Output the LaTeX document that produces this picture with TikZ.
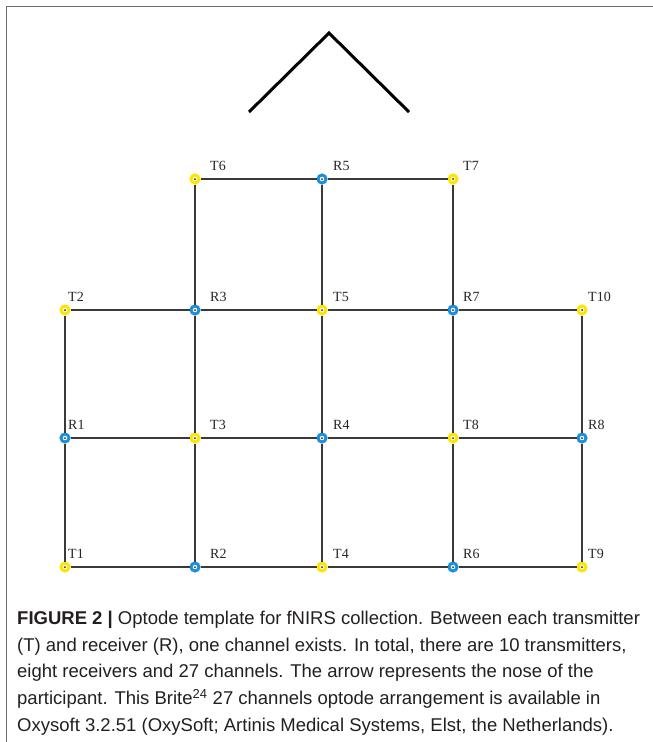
\documentclass[tikz,border=0pt]{standalone}
\usepackage{fontspec}
\setmainfont{Liberation Serif}
\newfontfamily\capfont{Liberation Sans}
\usetikzlibrary{positioning}
\definecolor{txfill}{HTML}{FFE400}
\definecolor{rxfill}{HTML}{1B8FDA}
\definecolor{gridedge}{HTML}{3A3A3A}
\definecolor{frameedge}{HTML}{6E6E6E}
\definecolor{captext}{HTML}{231F20}

\begin{document}
\begin{tikzpicture}[
  x=1pt, y=-1pt,
  opt/.style={circle, inner sep=0pt, minimum size=8pt, line width=3pt, fill=white,
              path picture={\fill[black!85] (path picture bounding box.center) circle (1pt);}},
  tx/.style={opt, draw=txfill},
  rx/.style={opt, draw=rxfill},
  chan/.style={draw=gridedge, line width=1.7pt},
  nose/.style={draw=black, line width=3pt, line join=miter},
  lab/.style={font=\fontsize{14}{16}\selectfont, text=black!85, anchor=base west, inner sep=0pt},
  capbox/.style={font=\capfont\fontsize{18.5}{26.6}\selectfont, text=captext, align=left,
              anchor=north west, inner sep=0pt},
]
\useasboundingbox (0,0) rectangle (653,742);
% ---- frame (top and left edge only) ----
\coordinate (fa) at (6.5,742);
\coordinate (fb) at (6.5,6.5);
\coordinate (fc) at (653,6.5);
\draw[frameedge, line width=1.5pt] (fa) -- (fb) -- (fc);
% ---- nose arrow ----
\coordinate (noseL) at (249,112);
\coordinate (noseTip) at (329,33);
\coordinate (noseR) at (409,112);
\draw[nose] (noseL) -- (noseTip) -- (noseR);
% ---- optodes: row 1 ----
\node[tx] (T6) at (195,179) {};
\node[rx] (R5) at (322,179) {};
\node[tx] (T7) at (453,179) {};
% ---- row 2 ----
\node[tx] (T2)  at (65,310) {};
\node[rx] (R3)  at (195,310) {};
\node[tx] (T5)  at (322,310) {};
\node[rx] (R7)  at (453,310) {};
\node[tx] (T10) at (582,310) {};
% ---- row 3 ----
\node[rx] (R1) at (65,438) {};
\node[tx] (T3) at (195,438) {};
\node[rx] (R4) at (322,438) {};
\node[tx] (T8) at (453,438) {};
\node[rx] (R8) at (582,438) {};
% ---- row 4 ----
\node[tx] (T1) at (65,567) {};
\node[rx] (R2) at (195,567) {};
\node[tx] (T4) at (322,567) {};
\node[rx] (R6) at (453,567) {};
\node[tx] (T9) at (582,567) {};
% ---- channels (14 horizontal + 13 vertical) ----
\draw[chan] (T6) -- (R5) -- (T7);
\draw[chan] (T2) -- (R3) -- (T5) -- (R7) -- (T10);
\draw[chan] (R1) -- (T3) -- (R4) -- (T8) -- (R8);
\draw[chan] (T1) -- (R2) -- (T4) -- (R6) -- (T9);
\draw[chan] (T2) -- (R1) -- (T1);
\draw[chan] (T6) -- (R3) -- (T3) -- (R2);
\draw[chan] (R5) -- (T5) -- (R4) -- (T4);
\draw[chan] (T7) -- (R7) -- (T8) -- (R6);
\draw[chan] (T10) -- (R8) -- (T9);
% ---- optode labels ----
\node[lab] (lT6) at (210,170) {T6};
\node[lab] (lR5) at (333,170) {R5};
\node[lab] (lT7) at (463,170) {T7};
\node[lab] (lT2)  at (68,301) {T2};
\node[lab] (lR3)  at (210,301) {R3};
\node[lab] (lT5)  at (333,301) {T5};
\node[lab] (lR7)  at (463,301) {R7};
\node[lab] (lT10) at (588,301) {T10};
\node[lab] (lR1) at (68,429) {R1};
\node[lab] (lT3) at (210,429) {T3};
\node[lab] (lR4) at (333,429) {R4};
\node[lab] (lT8) at (463,429) {T8};
\node[lab] (lR8) at (588,429) {R8};
\node[lab] (lT1) at (68,558) {T1};
\node[lab] (lR2) at (210,558) {R2};
\node[lab] (lT4) at (333,558) {T4};
\node[lab] (lR6) at (463,558) {R6};
\node[lab] (lT9) at (588,558) {T9};
% ---- caption ----
\node[capbox] (caption) at (17,611) {%
  \textbf{FIGURE 2 |} Optode template for fNIRS collection. Between each transmitter\\
  (T) and receiver (R), one channel exists. In total, there are 10 transmitters,\\
  eight receivers and 27 channels. The arrow represents the nose of the\\
  participant. This Brite\textsuperscript{24} 27 channels optode arrangement is available in\\
  Oxysoft 3.2.51 (OxySoft; Artinis Medical Systems, Elst, the Netherlands).};
\end{tikzpicture}
\end{document}
